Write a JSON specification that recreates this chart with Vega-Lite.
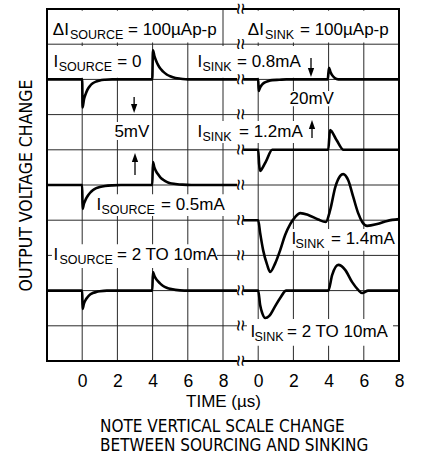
{
  "$schema": "https://vega.github.io/schema/vega-lite/v6.json",
  "width": 352,
  "height": 352,
  "autosize": {"type": "none"},
  "padding": {"left": 47, "top": 9, "right": 24, "bottom": 100},
  "background": "white",
  "config": {"view": {"stroke": null}},
  "title": {
    "text": ["NOTE VERTICAL SCALE CHANGE", "BETWEEN SOURCING AND SINKING"],
    "orient": "bottom", "anchor": "start", "frame": "group", "align": "left",
    "dx": 53, "offset": 9, "lineHeight": 19.5,
    "font": "Liberation Sans Narrow, DejaVu Sans Condensed, Liberation Sans",
    "fontSize": 17, "fontWeight": "normal", "color": "black"
  },
  "datasets": {
    "grid": [
      {"x": 0, "x2": 0, "y": 0, "y2": 10}, {"x": 2, "x2": 2, "y": 0, "y2": 10}, {"x": 4, "x2": 4, "y": 0, "y2": 10}, {"x": 6, "x2": 6, "y": 0, "y2": 10}, {"x": 8, "x2": 8, "y": 0, "y2": 10}, {"x": 10, "x2": 10, "y": 0, "y2": 10}, {"x": 12, "x2": 12, "y": 0, "y2": 10}, {"x": 14, "x2": 14, "y": 0, "y2": 10}, {"x": 16, "x2": 16, "y": 0, "y2": 10},
      {"x": -2, "x2": 18, "y": 1, "y2": 1}, {"x": -2, "x2": 18, "y": 2, "y2": 2}, {"x": -2, "x2": 18, "y": 3, "y2": 3}, {"x": -2, "x2": 18, "y": 4, "y2": 4}, {"x": -2, "x2": 18, "y": 5, "y2": 5}, {"x": -2, "x2": 18, "y": 6, "y2": 6}, {"x": -2, "x2": 18, "y": 7, "y2": 7}, {"x": -2, "x2": 18, "y": 8, "y2": 8}, {"x": -2, "x2": 18, "y": 9, "y2": 9}
    ],
    "frame": [
      {"x": -2, "x2": -2, "y": 0, "y2": 10}, {"x": 18, "x2": 18, "y": 0, "y2": 10},
      {"x": -2, "x2": 18, "y": 0, "y2": 0}, {"x": -2, "x2": 18, "y": 10, "y2": 10}
    ],
    "traces": [
      {"s": "S0", "x": -2, "y": 8}, {"s": "S0", "x": 0, "y": 8}, {"s": "S0", "x": 0.02, "y": 7.2}, {"s": "S0", "x": 0.1, "y": 7.43}, {"s": "S0", "x": 0.2, "y": 7.59}, {"s": "S0", "x": 0.3, "y": 7.71}, {"s": "S0", "x": 0.45, "y": 7.82}, {"s": "S0", "x": 0.6, "y": 7.89}, {"s": "S0", "x": 0.8, "y": 7.94}, {"s": "S0", "x": 1.0, "y": 7.97}, {"s": "S0", "x": 1.3, "y": 7.99}, {"s": "S0", "x": 1.7, "y": 8}, {"s": "S0", "x": 3.98, "y": 8}, {"s": "S0", "x": 4.02, "y": 8.83}, {"s": "S0", "x": 4.1, "y": 8.67}, {"s": "S0", "x": 4.2, "y": 8.53}, {"s": "S0", "x": 4.3, "y": 8.42}, {"s": "S0", "x": 4.45, "y": 8.3}, {"s": "S0", "x": 4.6, "y": 8.22}, {"s": "S0", "x": 4.8, "y": 8.14}, {"s": "S0", "x": 5.0, "y": 8.09}, {"s": "S0", "x": 5.3, "y": 8.04}, {"s": "S0", "x": 5.6, "y": 8.02}, {"s": "S0", "x": 6.0, "y": 8}, {"s": "S0", "x": 8.8, "y": 8},
      {"s": "S05", "x": -2, "y": 5}, {"s": "S05", "x": 0, "y": 5}, {"s": "S05", "x": 0.02, "y": 4.32}, {"s": "S05", "x": 0.1, "y": 4.47}, {"s": "S05", "x": 0.2, "y": 4.59}, {"s": "S05", "x": 0.3, "y": 4.68}, {"s": "S05", "x": 0.45, "y": 4.78}, {"s": "S05", "x": 0.6, "y": 4.85}, {"s": "S05", "x": 0.8, "y": 4.91}, {"s": "S05", "x": 1.0, "y": 4.94}, {"s": "S05", "x": 1.3, "y": 4.97}, {"s": "S05", "x": 1.7, "y": 4.99}, {"s": "S05", "x": 2.2, "y": 5}, {"s": "S05", "x": 3.98, "y": 5}, {"s": "S05", "x": 4.02, "y": 5.65}, {"s": "S05", "x": 4.1, "y": 5.5}, {"s": "S05", "x": 4.2, "y": 5.39}, {"s": "S05", "x": 4.3, "y": 5.31}, {"s": "S05", "x": 4.45, "y": 5.21}, {"s": "S05", "x": 4.6, "y": 5.15}, {"s": "S05", "x": 4.8, "y": 5.09}, {"s": "S05", "x": 5.0, "y": 5.05}, {"s": "S05", "x": 5.3, "y": 5.03}, {"s": "S05", "x": 5.7, "y": 5.01}, {"s": "S05", "x": 6.2, "y": 5}, {"s": "S05", "x": 8.8, "y": 5},
      {"s": "S2", "x": -2, "y": 2}, {"s": "S2", "x": 0, "y": 2}, {"s": "S2", "x": 0.02, "y": 1.48}, {"s": "S2", "x": 0.1, "y": 1.63}, {"s": "S2", "x": 0.2, "y": 1.74}, {"s": "S2", "x": 0.3, "y": 1.81}, {"s": "S2", "x": 0.45, "y": 1.89}, {"s": "S2", "x": 0.6, "y": 1.93}, {"s": "S2", "x": 0.8, "y": 1.96}, {"s": "S2", "x": 1.0, "y": 1.98}, {"s": "S2", "x": 1.4, "y": 2}, {"s": "S2", "x": 3.98, "y": 2}, {"s": "S2", "x": 4.02, "y": 2.53}, {"s": "S2", "x": 4.1, "y": 2.42}, {"s": "S2", "x": 4.2, "y": 2.33}, {"s": "S2", "x": 4.3, "y": 2.27}, {"s": "S2", "x": 4.45, "y": 2.19}, {"s": "S2", "x": 4.6, "y": 2.13}, {"s": "S2", "x": 4.8, "y": 2.08}, {"s": "S2", "x": 5.0, "y": 2.05}, {"s": "S2", "x": 5.3, "y": 2.02}, {"s": "S2", "x": 5.8, "y": 2}, {"s": "S2", "x": 8.8, "y": 2},
      {"s": "R08", "x": 9.15, "y": 8}, {"s": "R08", "x": 10, "y": 8}, {"s": "R08", "x": 10.03, "y": 7.67}, {"s": "R08", "x": 10.1, "y": 7.76}, {"s": "R08", "x": 10.2, "y": 7.84}, {"s": "R08", "x": 10.35, "y": 7.91}, {"s": "R08", "x": 10.55, "y": 7.95}, {"s": "R08", "x": 10.8, "y": 7.98}, {"s": "R08", "x": 11.2, "y": 7.99}, {"s": "R08", "x": 11.6, "y": 8}, {"s": "R08", "x": 13.95, "y": 8}, {"s": "R08", "x": 14.02, "y": 8.33}, {"s": "R08", "x": 14.1, "y": 8.22}, {"s": "R08", "x": 14.2, "y": 8.12}, {"s": "R08", "x": 14.35, "y": 8.04}, {"s": "R08", "x": 14.55, "y": 8}, {"s": "R08", "x": 18, "y": 8},
      {"s": "R12", "x": 9.15, "y": 6}, {"s": "R12", "x": 10, "y": 6}, {"s": "R12", "x": 10.05, "y": 5.6}, {"s": "R12", "x": 10.12, "y": 5.4}, {"s": "R12", "x": 10.2, "y": 5.45}, {"s": "R12", "x": 10.45, "y": 5.68}, {"s": "R12", "x": 10.8, "y": 6}, {"s": "R12", "x": 13.98, "y": 6}, {"s": "R12", "x": 14.08, "y": 6.56}, {"s": "R12", "x": 14.45, "y": 6.28}, {"s": "R12", "x": 14.85, "y": 6}, {"s": "R12", "x": 18, "y": 6},
      {"s": "R14", "x": 9.15, "y": 4}, {"s": "R14", "x": 10, "y": 4}, {"s": "R14", "x": 10.11, "y": 3.64}, {"s": "R14", "x": 10.28, "y": 3.15}, {"s": "R14", "x": 10.51, "y": 2.73}, {"s": "R14", "x": 10.68, "y": 2.53}, {"s": "R14", "x": 10.97, "y": 2.78}, {"s": "R14", "x": 11.25, "y": 3.15}, {"s": "R14", "x": 11.53, "y": 3.58}, {"s": "R14", "x": 11.82, "y": 3.89}, {"s": "R14", "x": 12.1, "y": 4.09}, {"s": "R14", "x": 12.39, "y": 4.2}, {"s": "R14", "x": 12.84, "y": 4.15}, {"s": "R14", "x": 13.41, "y": 4.02}, {"s": "R14", "x": 13.84, "y": 3.95}, {"s": "R14", "x": 14.09, "y": 4.29}, {"s": "R14", "x": 14.38, "y": 4.94}, {"s": "R14", "x": 14.66, "y": 5.26}, {"s": "R14", "x": 14.83, "y": 5.31}, {"s": "R14", "x": 15.11, "y": 5.14}, {"s": "R14", "x": 15.4, "y": 4.66}, {"s": "R14", "x": 15.68, "y": 4.2}, {"s": "R14", "x": 15.91, "y": 3.95}, {"s": "R14", "x": 16.19, "y": 3.84}, {"s": "R14", "x": 16.76, "y": 3.89}, {"s": "R14", "x": 17.33, "y": 3.98}, {"s": "R14", "x": 18, "y": 4.03},
      {"s": "R2", "x": 9.15, "y": 2}, {"s": "R2", "x": 10, "y": 2}, {"s": "R2", "x": 10.11, "y": 1.59}, {"s": "R2", "x": 10.23, "y": 1.36}, {"s": "R2", "x": 10.4, "y": 1.22}, {"s": "R2", "x": 10.63, "y": 1.28}, {"s": "R2", "x": 10.91, "y": 1.51}, {"s": "R2", "x": 11.25, "y": 1.79}, {"s": "R2", "x": 11.59, "y": 2}, {"s": "R2", "x": 13.98, "y": 2}, {"s": "R2", "x": 14.2, "y": 2.44}, {"s": "R2", "x": 14.55, "y": 2.73}, {"s": "R2", "x": 14.94, "y": 2.59}, {"s": "R2", "x": 15.34, "y": 2.24}, {"s": "R2", "x": 15.68, "y": 2.02}, {"s": "R2", "x": 15.91, "y": 1.93}, {"s": "R2", "x": 16.25, "y": 2}, {"s": "R2", "x": 18, "y": 2}
    ],
    "boxes": [
      {"x": -1.91, "x2": 7.89, "y": 9.05, "y2": 9.95},
      {"x": 9.14, "x2": 17.89, "y": 9.05, "y2": 9.95},
      {"x": -1.91, "x2": 3.74, "y": 8.05, "y2": 8.95},
      {"x": 6.24, "x2": 12.72, "y": 8.05, "y2": 8.95},
      {"x": 11.69, "x2": 14.1, "y": 7.24, "y2": 7.67},
      {"x": 6.24, "x2": 12.72, "y": 6.19, "y2": 6.82},
      {"x": 1.69, "x2": 3.85, "y": 6.28, "y2": 6.79},
      {"x": 0.67, "x2": 8.1, "y": 4.12, "y2": 4.74},
      {"x": -1.72, "x2": 7.66, "y": 2.64, "y2": 3.32},
      {"x": 11.75, "x2": 17.89, "y": 3.13, "y2": 3.75},
      {"x": 9.36, "x2": 17.66, "y": 0.43, "y2": 1.19},
      {"x": 8.83, "x2": 9.12, "y": -0.05, "y2": 10.05}
    ],
    "main": [
      {"x": -1.67, "y": 9.261, "text": "ΔI"}, {"x": 2.602, "y": 9.261, "text": "= 100µAp-p"},
      {"x": 9.409, "y": 9.261, "text": "ΔI"}, {"x": 12.375, "y": 9.261, "text": "= 100µAp-p"},
      {"x": -1.631, "y": 8.352, "text": "I"}, {"x": 1.994, "y": 8.352, "text": "= 0"},
      {"x": 6.551, "y": 8.352, "text": "I"}, {"x": 8.795, "y": 8.352, "text": "= 0.8mA"},
      {"x": 11.778, "y": 7.301, "text": "20mV"},
      {"x": 6.551, "y": 6.364, "text": "I"}, {"x": 8.909, "y": 6.364, "text": "= 1.2mA"},
      {"x": 1.83, "y": 6.364, "text": "5mV"},
      {"x": 0.813, "y": 4.29, "text": "I"}, {"x": 4.477, "y": 4.29, "text": "= 0.5mA"},
      {"x": -1.631, "y": 2.869, "text": "I"}, {"x": 1.977, "y": 2.869, "text": "= 2 TO 10mA"},
      {"x": 11.892, "y": 3.324, "text": "I"}, {"x": 14.136, "y": 3.324, "text": "= 1.4mA"},
      {"x": 9.563, "y": 0.682, "text": "I"}, {"x": 11.636, "y": 0.682, "text": "= 2 TO 10mA"}
    ],
    "sub": [
      {"x": -0.7, "y": 9.261, "text": "SOURCE"},
      {"x": 10.38, "y": 9.261, "text": "SINK"},
      {"x": -1.335, "y": 8.352, "text": "SOURCE"},
      {"x": 6.83, "y": 8.352, "text": "SINK"},
      {"x": 6.83, "y": 6.364, "text": "SINK"},
      {"x": 1.091, "y": 4.29, "text": "SOURCE"},
      {"x": -1.295, "y": 2.869, "text": "SOURCE"},
      {"x": 12.114, "y": 3.324, "text": "SINK"},
      {"x": 9.784, "y": 0.682, "text": "SINK"}
    ],
    "stems": [
      {"x": 2.95, "y": 7.5, "y2": 7.173},
      {"x": 3.0, "y": 5.284, "y2": 5.781},
      {"x": 13.0, "y": 8.608, "y2": 8.196},
      {"x": 13.057, "y": 6.335, "y2": 6.719}
    ],
    "heads": [
      {"x": 2.95, "y": 7.173, "dir": "down"},
      {"x": 3.0, "y": 5.781, "dir": "up"},
      {"x": 13.0, "y": 8.196, "dir": "down"},
      {"x": 13.057, "y": 6.719, "dir": "up"}
    ],
    "breaks": [
      {"x": 8.97, "y": 0}, {"x": 8.97, "y": 1}, {"x": 8.97, "y": 2}, {"x": 8.97, "y": 3}, {"x": 8.97, "y": 4}, {"x": 8.97, "y": 5}, {"x": 8.97, "y": 6}, {"x": 8.97, "y": 7}, {"x": 8.97, "y": 8}, {"x": 8.97, "y": 9}, {"x": 8.97, "y": 10}
    ]
  },
  "encoding": {
    "x": {
      "field": "x", "type": "quantitative",
      "scale": {"domain": [-2, 18], "nice": false, "zero": false},
      "axis": {
        "values": [-2, 0, 2, 4, 6, 8, 10, 12, 14, 16, 18],
        "grid": false, "ticks": false, "domain": false,
        "labelExpr": "datum.value < 0 ? '' : (datum.value > 8 ? format(datum.value - 10, 'd') : format(datum.value, 'd'))",
        "labelFont": "Liberation Sans", "labelFontSize": 17.5, "labelColor": "black",
        "labelPadding": 11, "labelFlush": false, "labelOverlap": false, "labelBound": false,
        "title": "TIME (µs)", "titleFont": "Liberation Sans", "titleFontSize": 17,
        "titleFontWeight": "normal", "titleColor": "black", "titlePadding": 4
      }
    },
    "y": {
      "field": "y", "type": "quantitative",
      "scale": {"domain": [0, 10], "nice": false, "zero": false},
      "axis": {
        "values": [0, 5, 10],
        "grid": false, "ticks": false, "domain": false, "labels": false,
        "title": "OUTPUT VOLTAGE CHANGE",
        "titleFont": "Liberation Sans Narrow, DejaVu Sans Condensed, Liberation Sans",
        "titleFontSize": 17.5, "titleFontWeight": "normal", "titleColor": "black", "titlePadding": 12
      }
    }
  },
  "layer": [
    {
      "data": {"name": "grid"},
      "mark": {"type": "rule", "stroke": "#2a2a2a", "strokeWidth": 1},
      "encoding": {"x2": {"field": "x2"}, "y2": {"field": "y2"}}
    },
    {
      "data": {"name": "frame"},
      "mark": {"type": "rule", "stroke": "black", "strokeWidth": 2, "strokeCap": "square"},
      "encoding": {"x2": {"field": "x2"}, "y2": {"field": "y2"}}
    },
    {
      "data": {"name": "boxes"},
      "mark": {"type": "rect", "fill": "white", "stroke": null},
      "encoding": {"x2": {"field": "x2"}, "y2": {"field": "y2"}}
    },
    {
      "data": {"name": "traces"},
      "mark": {"type": "line", "interpolate": "monotone", "stroke": "black", "strokeWidth": 2.6, "strokeJoin": "round"},
      "encoding": {"detail": {"field": "s", "type": "nominal"}}
    },
    {
      "data": {"name": "breaks"},
      "mark": {"type": "text", "text": "≈", "angle": 90, "fontSize": 20, "font": "Liberation Sans", "align": "center", "baseline": "middle", "color": "black"}
    },
    {
      "data": {"name": "main"},
      "mark": {"type": "text", "align": "left", "baseline": "alphabetic", "font": "Liberation Sans", "fontSize": 17, "color": "black"},
      "encoding": {"text": {"field": "text", "type": "nominal"}}
    },
    {
      "data": {"name": "sub"},
      "mark": {"type": "text", "align": "left", "baseline": "alphabetic", "font": "Liberation Sans", "fontSize": 12.5, "dy": 4, "color": "black"},
      "encoding": {"text": {"field": "text", "type": "nominal"}}
    },
    {
      "data": {"name": "stems"},
      "mark": {"type": "rule", "stroke": "black", "strokeWidth": 1.3},
      "encoding": {"y2": {"field": "y2"}}
    },
    {
      "data": {"name": "heads"},
      "mark": {"type": "point", "filled": true, "color": "black", "size": 81, "opacity": 1, "strokeWidth": 0},
      "encoding": {
        "shape": {"field": "dir", "type": "nominal", "scale": {"domain": ["down", "up"], "range": ["M-0.7,-1L0.7,-1L0,1Z", "M-0.7,1L0.7,1L0,-1Z"]}, "legend": null}
      }
    }
  ]
}
